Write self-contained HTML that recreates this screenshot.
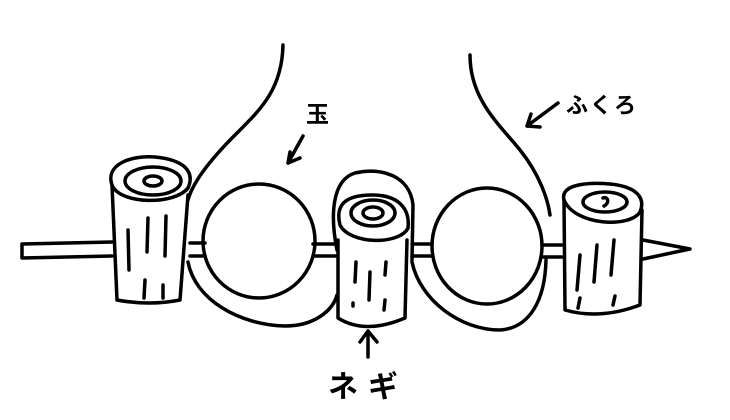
<!DOCTYPE html>
<html><head><meta charset="utf-8"><style>
body{margin:0;background:#fff}
svg{display:block}
.t{position:absolute;font-weight:bold;font-family:'Liberation Sans','Noto Sans CJK JP',sans-serif}
</style></head><body>
<svg width="730" height="420" viewBox="0 0 730 420" fill="none" stroke="#000" stroke-width="3.5" stroke-linecap="round" stroke-linejoin="round">
<path d="M22 244 L22 258 L112 256 M22 244 L112 242"/>
<path d="M190 243 L205 243 M190 256 L205 256 M313 244 L337 244 M313 256 L337 256 M412 244 L432 244 M412 256 L432 256 M542 245 L562 245 M542 257 L562 257"/>
<path d="M643 240 L690 249 L643 259"/>
<path d="M283 45 C282 90 260 110 235 135 C205 165 192 185 188 200"/>
<path d="M188 262 C195 300 240 325 285 326 C315 326 333 310 337 295"/>
<path d="M470 55 C470 100 500 125 520 150 C540 175 548 200 550 215"/>
<path d="M412 262 C420 300 460 330 500 330 C530 328 545 300 546 260"/>
<ellipse cx="259" cy="241" rx="56" ry="57"/>
<ellipse cx="487" cy="246" rx="55" ry="58"/>
<path d="M112 185 L117 300 Q150 306 180 300 L188 195"/>
<path d="M112 185 C105 165 130 155 155 157 C185 160 195 172 188 188 C175 205 120 205 112 185Z"/>
<ellipse cx="153" cy="181" rx="28" ry="14"/>
<ellipse cx="153" cy="181" rx="9" ry="5"/>
<path d="M128 230 L129 270 M148 218 L147 252 M166 216 L165 256 M145 280 L144 298 M163 285 L163 298"/>
<path d="M337 250 C330 215 332 180 355 173 C380 167 410 175 413 205 L412 260"/>
<path d="M340 225 C335 205 345 195 372 195 C400 195 410 210 408 228 C400 245 350 245 340 225Z"/>
<ellipse cx="373" cy="213" rx="22" ry="13"/>
<ellipse cx="373" cy="213" rx="10" ry="6"/>
<path d="M338 240 L338 318 Q365 335 405 318 L407 240"/>
<path d="M356 262 L355 282 M370 272 L369 300 M386 262 L385 275 M353 303 L353 306 M385 300 L384 310"/>
<path d="M564 200 L565 310 Q600 320 640 305 L642 210"/>
<path d="M564 200 C560 185 585 182 610 184 C640 187 645 200 640 212 C630 228 575 226 564 200Z"/>
<ellipse cx="605" cy="202" rx="22" ry="10"/>
<path d="M603 198 C608 196 610 203 604 206"/>
<path d="M580 255 L577 290 M597 245 L594 282 M614 240 L611 275 M580 298 L578 308 M615 296 L613 305"/>
<path d="M303 136 L288 163 M288 163 L290 152 M288 163 L300 158"/>
<path d="M558 103 L527 126 M527 126 L531 114 M527 126 L540 127"/>
<path d="M368 331 L368 357 M368 331 L360 342 M368 331 L377 342"/>
</svg>
<div class="t" style="left:306px;top:95px;font-size:23px">玉</div>
<div class="t" style="left:566px;top:88px;font-size:22px;letter-spacing:2px">ふくろ</div>
<div class="t" style="left:328px;top:362px;font-size:30px;letter-spacing:10px">ネギ</div>
</body></html>
